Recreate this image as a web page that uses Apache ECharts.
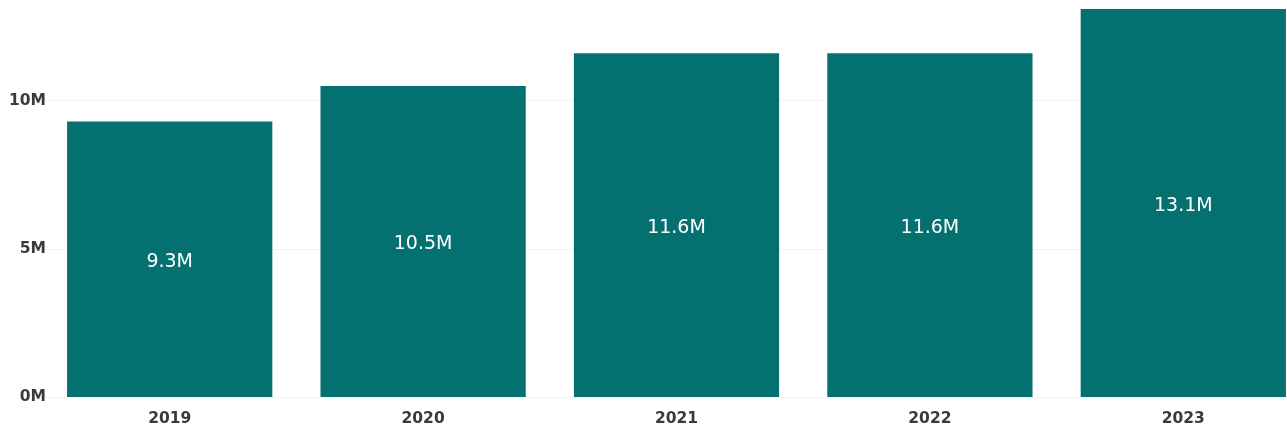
<!DOCTYPE html>
<html>
<head>
<meta charset="utf-8">
<script src="https://cdn.jsdelivr.net/npm/echarts@6/dist/echarts.min.js"></script>
<style>
html,body{margin:0;padding:0;background:#fff;}
#chart{width:1287px;height:432px;}
</style>
</head>
<body>
<div id="chart"></div>
<script>
// 年份
var years = ['2019', '2020', '2021', '2022', '2023'];
// 数值（百万）
var values = [9.3, 10.5, 11.6, 11.6, 13.1];

var myChart = echarts.init(document.getElementById('chart'));
var option = {
	animation: false,
	grid: {
		left: 43,
		width: 1267,
		top: 0,
		bottom: 35,
		outerBoundsMode: 'none',
		containLabel: false
	},
	xAxis: {
		type: 'category',
		data: years,
		axisLine: { show: false },
		axisTick: { show: false },
		axisLabel: {
			margin: 14,
			color: '#3a3a3a',
			fontSize: 15.5,
			fontWeight: 'bold',
			fontFamily: 'DejaVu Sans'
		}
	},
	yAxis: {
		type: 'value',
		min: 0,
		max: 13.4,
		interval: 5,
		axisLine: { show: false },
		axisTick: { show: false },
		splitLine: {
			showMaxLine: false,
			lineStyle: { color: '#f3f3f3', width: 1 }
		},
		axisLabel: {
			showMaxLabel: false,
			margin: -3,
			color: '#3a3a3a',
			fontSize: 15.5,
			fontWeight: 'bold',
			fontFamily: 'DejaVu Sans',
			formatter: function (v) { return v + 'M'; }
		}
	},
	series: [{
		type: 'bar',
		data: values,
		barCategoryGap: '19%',
		itemStyle: { color: '#04706f' },
		label: {
			show: true,
			position: 'inside',
			offset: [0, 3],
			color: '#ffffff',
			fontSize: 19,
			fontFamily: 'DejaVu Sans',
			formatter: function (p) { return p.value.toFixed(1) + 'M'; }
		}
	}]
};
myChart.setOption(option);
</script>
</body>
</html>
